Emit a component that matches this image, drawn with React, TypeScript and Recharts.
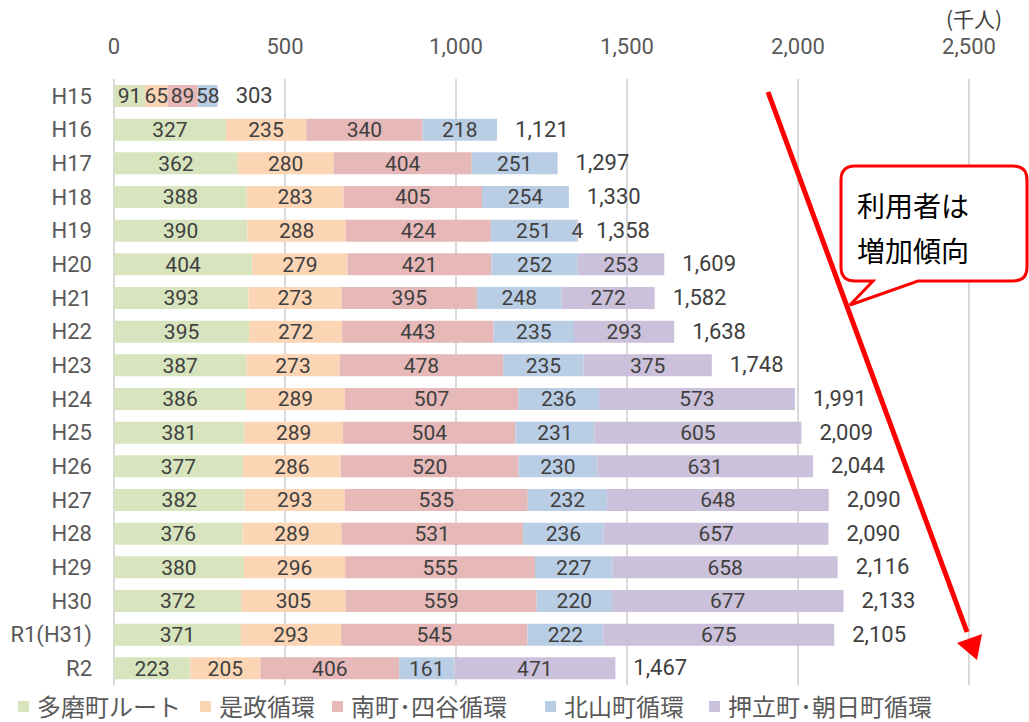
import React from "react";
import {
  BarChart,
  Bar,
  XAxis,
  YAxis,
  CartesianGrid,
  LabelList,
} from "recharts";

const categories = [
  "H15", "H16", "H17", "H18", "H19", "H20", "H21", "H22", "H23",
  "H24", "H25", "H26", "H27", "H28", "H29", "H30", "R1(H31)", "R2",
];
const tamaRoute = [91, 327, 362, 388, 390, 404, 393, 395, 387, 386, 381, 377, 382, 376, 380, 372, 371, 223];
const koremasa = [65, 235, 280, 283, 288, 279, 273, 272, 273, 289, 289, 286, 293, 289, 296, 305, 293, 205];
const minamiYotsuya = [89, 340, 404, 405, 424, 421, 395, 443, 478, 507, 504, 520, 535, 531, 555, 559, 545, 406];
const kitayama = [58, 218, 251, 254, 251, 252, 248, 235, 235, 236, 231, 230, 232, 236, 227, 220, 222, 161];
const oshitateAsahi = [0, 0, 0, 0, 4, 253, 272, 293, 375, 573, 605, 631, 648, 657, 658, 677, 675, 471];
const totals = [303, 1121, 1297, 1330, 1358, 1609, 1582, 1638, 1748, 1991, 2009, 2044, 2090, 2090, 2116, 2133, 2105, 1467];
const xTicks = [0, 500, 1000, 1500, 2000, 2500];

const series = [
  { key: "tama", name: "多磨町ルート", color: "#d7e4bd" },
  { key: "kore", name: "是政循環", color: "#fcd5b5" },
  { key: "mina", name: "南町･四谷循環", color: "#e6b9b8" },
  { key: "kita", name: "北山町循環", color: "#b9cde5" },
  { key: "oshi", name: "押立町･朝日町循環", color: "#ccc1da" },
];

const data = categories.map((name, i) => ({
  name,
  tama: tamaRoute[i],
  kore: koremasa[i],
  mina: minamiYotsuya[i],
  kita: kitayama[i],
  oshi: oshitateAsahi[i],
  total: totals[i],
}));

const fmt = (v: number) => v.toLocaleString("en-US");
const FONT = "Roboto, 'Noto Sans CJK JP', sans-serif";
const CJK = "'Noto Sans CJK JP', sans-serif";

const segLabel = (v: any) => (v ? fmt(v) : "");

// total label hangs off the first (green) segment, whose width gives the scale
const TotalLabel = (props: any) => {
  const { x, y, width, height, index } = props;
  const stackSum =
    tamaRoute[index] + koremasa[index] + minamiYotsuya[index] + kitayama[index] + oshitateAsahi[index];
  const end = x + (width * stackSum) / tamaRoute[index];
  return (
    <text
      x={end + 18}
      y={y + height / 2}
      dy={7}
      fill="#404040"
      fontSize={22}
      fontFamily={FONT}
    >
      {fmt(totals[index])}
    </text>
  );
};

if (typeof document !== "undefined") document.body.style.margin = "0";

export default function App() {
  return (
    <div style={{ position: "relative", width: 1029, height: 722, background: "#fff" }}>
      <BarChart
        width={1029}
        height={722}
        data={data}
        layout="vertical"
        margin={{ top: 49, right: 60, left: 0, bottom: 37 }}
        barSize={22}
      >
        <CartesianGrid vertical horizontal={false} stroke="#d9d9d9" strokeWidth={2} />
        <XAxis
          type="number"
          orientation="top"
          domain={[0, 2500]}
          ticks={xTicks}
          tickFormatter={fmt}
          axisLine={false}
          tickLine={false}
          height={30}
          tick={{ fill: "#595959", fontSize: 22, fontFamily: FONT, dy: -17 }}
        />
        <YAxis
          type="category"
          dataKey="name"
          width={114}
          axisLine={false}
          tickLine={false}
          tickSize={0}
          tickMargin={22}
          interval={0}
          tick={{ fill: "#595959", fontSize: 22, fontFamily: FONT }}
        />
        {series.map((s, idx) => (
          <Bar
            key={s.key}
            dataKey={s.key}
            stackId="a"
            fill={s.color}
            isAnimationActive={false}
          >
            <LabelList
              dataKey={s.key}
              position="center"
              formatter={segLabel}
              fill="#404040"
              fontSize={21}
              fontFamily={FONT}
            />
            {idx === 0 && <LabelList dataKey="total" content={<TotalLabel />} />}
          </Bar>
        ))}
      </BarChart>

      <div
        style={{
          position: "absolute",
          left: 946,
          top: 3,
          fontSize: 21,
          fontFamily: CJK,
          color: "#404040",
        }}
      >
        (千人)
      </div>

      <svg
        width={1029}
        height={722}
        style={{ position: "absolute", left: 0, top: 0, pointerEvents: "none" }}
      >
        <line x1={768} y1={92} x2={967} y2={632} stroke="#ff0000" strokeWidth={5} />
        <polygon points="977,660 957,643 982,634" fill="#ff0000" />
        <path
          d="M855,166 L1013,166 Q1027,166 1027,180 L1027,267 Q1027,281 1013,281 L918,281 L850,305 L873,281 L855,281 Q841,281 841,267 L841,180 Q841,166 855,166 Z"
          fill="#fff"
          stroke="#ff0000"
          strokeWidth={3}
        />
        <text x={857} y={217} fontSize={28} fontFamily={CJK} fill="#000">利用者は</text>
        <text x={857} y={262} fontSize={28} fontFamily={CJK} fill="#000">増加傾向</text>
      </svg>

      <div
        style={{
          position: "absolute",
          left: 0,
          top: 691,
          width: 1029,
          height: 30,
          fontFamily: CJK,
          fontSize: 24,
          color: "#595959",
        }}
      >
        {series.map((s, i) => {
          const left = [18, 200, 332, 545, 709][i];
          return (
            <div key={s.key} style={{ position: "absolute", left, top: 0, display: "flex", alignItems: "center", whiteSpace: "nowrap" }}>
              <span style={{ display: "inline-block", width: 11, height: 11, background: s.color, marginRight: 8 }} />
              <span style={{ lineHeight: "30px" }}>{s.name}</span>
            </div>
          );
        })}
      </div>
    </div>
  );
}
